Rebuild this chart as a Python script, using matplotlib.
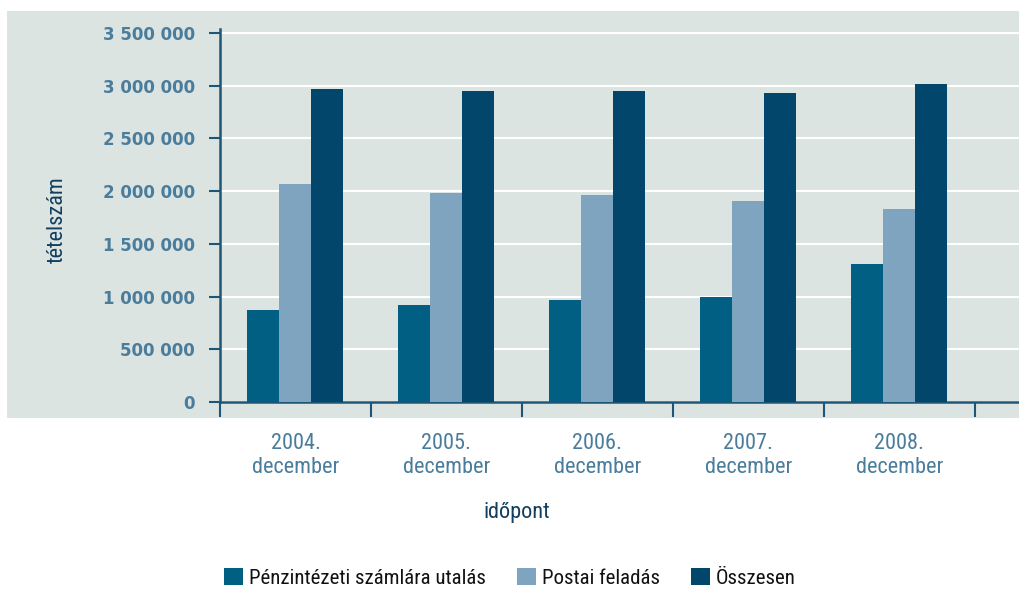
import numpy as np
import matplotlib
matplotlib.use("Agg")
import matplotlib.pyplot as plt
from matplotlib.patches import Rectangle

# data
years = ["2004.\ndecember", "2005.\ndecember", "2006.\ndecember", "2007.\ndecember", "2008.\ndecember"]
series_names = ["Pénzintézeti számlára utalás", "Postai feladás", "Összesen"]
bank = [875000, 920000, 967000, 996000, 1309000]
postal = [2068000, 1980000, 1960000, 1906000, 1830000]
total = [2969000, 2950000, 2950000, 2930000, 3016000]
yticks = [0, 500000, 1000000, 1500000, 2000000, 2500000, 3000000, 3500000]

colors = ["#005f83", "#7fa4bf", "#02476b"]
bg = "#dce4e2"
tick_col = "#4a7d9c"
spine_col = "#1d5677"
text_dark = "#123f5f"
narrow = ["Roboto Condensed", "Barlow Condensed", "DejaVu Sans"]

fig = plt.figure(figsize=(10.2, 5.9), dpi=100)
# grey panel behind the axes and tick labels
fig.add_artist(Rectangle((7/1020, (590-418)/590), 1 - 7/1020, (418-11)/590,
                         transform=fig.transFigure, facecolor=bg,
                         edgecolor="none", zorder=-10))

ax = fig.add_axes([220/1020, (590-402)/590, 800/1020, (402-29)/590])
ax.set_facecolor(bg)

x = np.arange(len(years))
w = 0.212
for i, (vals, name) in enumerate(zip([bank, postal, total], series_names)):
    ax.bar(x + (i - 1) * w, vals, width=w, color=colors[i], label=name, zorder=3)

ax.set_xlim(-0.5, 4.8)
ax.set_ylim(0, 3538000)

ax.set_yticks(yticks)
ax.set_yticklabels([f"{v:,}".replace(",", " ") for v in yticks],
                   fontsize=12, fontweight="bold", color=tick_col, family="DejaVu Sans")
ax.tick_params(axis="y", direction="out", length=8, width=1.5, color=spine_col, pad=10)
ax.yaxis.grid(True, color="white", linewidth=1.5, zorder=1)
ax.set_axisbelow(True)

# category boundaries as major ticks, labels on minor ticks at centres
ax.set_xticks(np.arange(-0.5, 5.0, 1.0))
ax.set_xticklabels([])
ax.set_xticks(x, minor=True)
ax.set_xticklabels(years, minor=True, fontsize=16, color=tick_col,
                   family=narrow, linespacing=1.2)
ax.tick_params(axis="x", which="major", direction="out", length=11, width=1.5, color=spine_col)
ax.tick_params(axis="x", which="minor", length=0, pad=22)

for s in ["top", "right"]:
    ax.spines[s].set_visible(False)
for s in ["left", "bottom"]:
    ax.spines[s].set_color(spine_col)
    ax.spines[s].set_linewidth(1.8)

ax.set_xlabel("időpont", fontsize=16, color=text_dark, family=narrow)
ax.xaxis.set_label_coords(0.371, -0.268)
ax.set_ylabel("tételszám", fontsize=16, color=text_dark, family=narrow)
ax.yaxis.set_label_coords(-0.19, 0.49)

fig.legend(loc="lower center", bbox_to_anchor=(0.5, -0.028), ncol=3, frameon=False,
           prop={"family": narrow, "size": 15},
           handlelength=0.9, handleheight=0.9,
           handletextpad=0.3, columnspacing=1.5, labelcolor="#111111")

fig.savefig("out.png", dpi=100)
